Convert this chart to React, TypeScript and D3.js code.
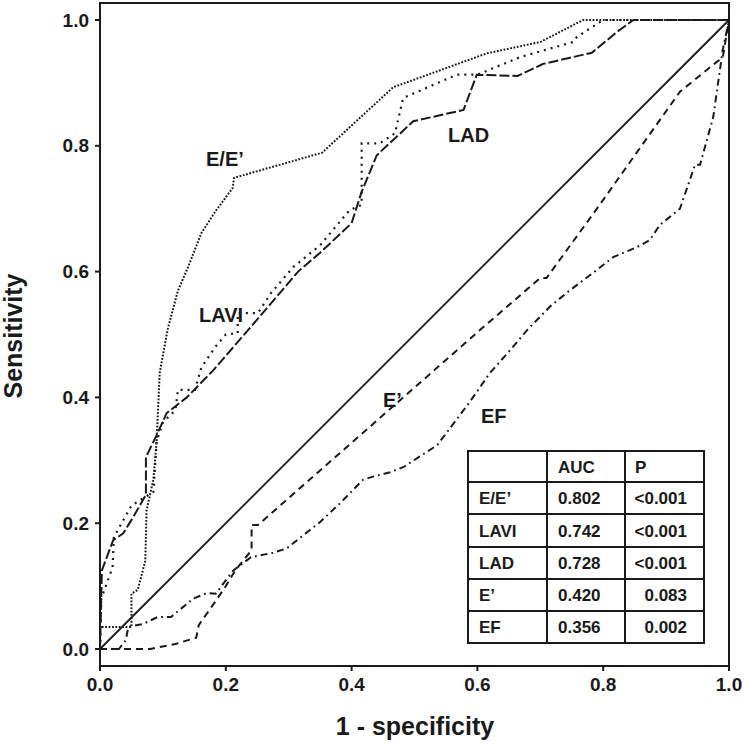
import React, { useRef, useEffect } from 'react';
import * as d3 from 'd3';

// ROC curves: [1 - specificity, sensitivity]
const eeCurve: [number, number][] = [
    [0, 0], [0, 0.035], [0.05, 0.035], [0.05, 0.088], [0.06, 0.094], [0.072, 0.14],
    [0.074, 0.22], [0.085, 0.27], [0.09, 0.33], [0.095, 0.44], [0.108, 0.51],
    [0.124, 0.57], [0.14, 0.607], [0.161, 0.661], [0.183, 0.695], [0.211, 0.733],
    [0.213, 0.749], [0.353, 0.789], [0.466, 0.893], [0.615, 0.947], [0.70, 0.965],
    [0.768, 1.0], [1, 1],
];

const laviCurve: [number, number][] = [
    [0, 0], [0.002, 0.08], [0.02, 0.13], [0.022, 0.178], [0.05, 0.228], [0.085, 0.25],
    [0.09, 0.33], [0.1, 0.36], [0.12, 0.38], [0.124, 0.412], [0.151, 0.412],
    [0.161, 0.447], [0.183, 0.48], [0.2, 0.5], [0.219, 0.502], [0.219, 0.534],
    [0.251, 0.534], [0.272, 0.566], [0.307, 0.607], [0.35, 0.642], [0.397, 0.698],
    [0.416, 0.706], [0.416, 0.804], [0.445, 0.804], [0.469, 0.82], [0.482, 0.876],
    [0.567, 0.913], [0.6, 0.913], [0.668, 0.941], [0.752, 0.965], [0.758, 0.973],
    [0.80, 1.0], [1, 1],
];

const ladCurve: [number, number][] = [
    [0, 0], [0.003, 0.125], [0.021, 0.173], [0.037, 0.184], [0.053, 0.21],
    [0.073, 0.245], [0.073, 0.305], [0.09, 0.34], [0.106, 0.375], [0.138, 0.4],
    [0.18, 0.443], [0.25, 0.524], [0.315, 0.6], [0.35, 0.63], [0.40, 0.677],
    [0.416, 0.727], [0.44, 0.785], [0.498, 0.839], [0.578, 0.857], [0.599, 0.913],
    [0.664, 0.911], [0.704, 0.93], [0.782, 0.948], [0.822, 0.981], [0.848, 1.0], [1, 1],
];

const ePrimeCurve: [number, number][] = [
    [0, 0], [0.08, 0], [0.12, 0.008], [0.153, 0.018], [0.157, 0.038], [0.183, 0.075],
    [0.2, 0.1], [0.215, 0.125], [0.241, 0.157], [0.241, 0.197], [0.251, 0.197],
    [0.604, 0.507], [0.70, 0.59], [0.71, 0.59], [0.79, 0.70], [0.922, 0.886],
    [0.98, 0.933], [0.99, 0.94], [1, 1],
];

const efCurve: [number, number][] = [
    [0, 0], [0.03, 0], [0.041, 0.014], [0.045, 0.035], [0.069, 0.04], [0.092, 0.051],
    [0.113, 0.051], [0.148, 0.08], [0.17, 0.089], [0.184, 0.088], [0.212, 0.125],
    [0.24, 0.146], [0.275, 0.153], [0.297, 0.16], [0.35, 0.202], [0.382, 0.232],
    [0.418, 0.269], [0.434, 0.274], [0.461, 0.281], [0.482, 0.289], [0.536, 0.324],
    [0.552, 0.345], [0.588, 0.393], [0.62, 0.439], [0.652, 0.475], [0.679, 0.507],
    [0.715, 0.544], [0.744, 0.568], [0.784, 0.598], [0.816, 0.623], [0.858, 0.641],
    [0.874, 0.65], [0.89, 0.674], [0.922, 0.70], [0.946, 0.77], [0.954, 0.77],
    [0.975, 0.846], [0.99, 0.952], [1, 1],
];

const axisTicks = [0, 0.2, 0.4, 0.6, 0.8, 1.0];

// inset table
const tableHeader = ['', 'AUC', 'P'];
const tableNames = ['E/E\u2019', 'LAVI', 'LAD', 'E\u2019', 'EF'];
const aucValues = ['0.802', '0.742', '0.728', '0.420', '0.356'];
const pValues = ['<0.001', '<0.001', '<0.001', '0.083', '0.002'];

const INK = '#1a1a1a';
const FONT = 'Liberation Sans, Arial, Helvetica, sans-serif';

const App: React.FC = () => {
    const svgRef = useRef<SVGSVGElement>(null);

    useEffect(() => {
        if (!svgRef.current) return;
        const svg = d3.select(svgRef.current);
        svg.selectAll('*').remove();

        const x = d3.scaleLinear().domain([0, 1]).range([100, 729]);
        const y = d3.scaleLinear().domain([0, 1]).range([649, 20]);
        const frameTop = 3;
        const frameBottom = 666;

        // frame
        svg.append('rect')
            .attr('x', x(0))
            .attr('y', frameTop)
            .attr('width', x(1) - x(0))
            .attr('height', frameBottom - frameTop)
            .attr('fill', 'none')
            .attr('stroke', INK)
            .attr('stroke-width', 2);

        // y ticks + labels
        const yAxis = svg.append('g');
        axisTicks.forEach(t => {
            yAxis.append('line')
                .attr('x1', x(0) - 5).attr('x2', x(0))
                .attr('y1', y(t)).attr('y2', y(t))
                .attr('stroke', INK).attr('stroke-width', 2);
            yAxis.append('text')
                .attr('x', 89)
                .attr('y', y(t))
                .attr('dy', '0.35em')
                .attr('text-anchor', 'end')
                .attr('font-size', 19)
                .attr('font-weight', 'bold')
                .attr('font-family', FONT)
                .attr('fill', INK)
                .text(d3.format('.1f')(t));
        });

        // x ticks + labels
        const xAxis = svg.append('g');
        axisTicks.forEach(t => {
            xAxis.append('line')
                .attr('x1', x(t)).attr('x2', x(t))
                .attr('y1', frameBottom).attr('y2', frameBottom + 5)
                .attr('stroke', INK).attr('stroke-width', 2);
            xAxis.append('text')
                .attr('x', x(t))
                .attr('y', 691)
                .attr('text-anchor', 'middle')
                .attr('font-size', 19)
                .attr('font-weight', 'bold')
                .attr('font-family', FONT)
                .attr('fill', INK)
                .text(d3.format('.1f')(t));
        });

        // axis titles
        svg.append('text')
            .attr('transform', 'translate(22, 336) rotate(-90)')
            .attr('text-anchor', 'middle')
            .attr('font-size', 25)
            .attr('font-weight', 'bold')
            .attr('font-family', FONT)
            .attr('fill', INK)
            .text('Sensitivity');

        svg.append('text')
            .attr('x', 415)
            .attr('y', 735)
            .attr('text-anchor', 'middle')
            .attr('font-size', 25)
            .attr('font-weight', 'bold')
            .attr('font-family', FONT)
            .attr('fill', INK)
            .text('1 - specificity');

        // reference diagonal
        svg.append('line')
            .attr('x1', x(0)).attr('y1', y(0))
            .attr('x2', x(1)).attr('y2', y(1))
            .attr('stroke', INK)
            .attr('stroke-width', 1.8);

        const line = d3.line<[number, number]>()
            .x(d => x(d[0]))
            .y(d => y(d[1]));

        const curves = [
            { data: eeCurve, dash: '1.8 1.6', width: 2 },
            { data: laviCurve, dash: '2 5', width: 2.2 },
            { data: ladCurve, dash: '10 3', width: 2 },
            { data: ePrimeCurve, dash: '7 5', width: 2 },
            { data: efCurve, dash: '7 4 1.8 4', width: 2 },
        ];

        curves.forEach(c => {
            svg.append('path')
                .datum(c.data)
                .attr('d', line)
                .attr('fill', 'none')
                .attr('stroke', INK)
                .attr('stroke-width', c.width)
                .attr('stroke-dasharray', c.dash);
        });

        // curve labels
        const labels = [
            { text: 'E/E\u2019', px: 206, py: 166 },
            { text: 'LAVI', px: 199, py: 322 },
            { text: 'LAD', px: 448, py: 142 },
            { text: 'E\u2019', px: 383, py: 407 },
            { text: 'EF', px: 481, py: 423 },
        ];
        labels.forEach(l => {
            svg.append('text')
                .attr('x', l.px)
                .attr('y', l.py)
                .attr('font-size', 20)
                .attr('font-weight', 'bold')
                .attr('font-family', FONT)
                .attr('fill', INK)
                .text(l.text);
        });

        // inset table
        const colX = [468, 547, 625, 704];
        const rowY = [451, 482, 514, 547, 579, 611, 643];
        const table = svg.append('g');
        table.append('rect')
            .attr('x', colX[0]).attr('y', rowY[0])
            .attr('width', colX[3] - colX[0])
            .attr('height', rowY[6] - rowY[0])
            .attr('fill', 'white');
        colX.forEach(cx => {
            table.append('line')
                .attr('x1', cx).attr('x2', cx)
                .attr('y1', rowY[0]).attr('y2', rowY[6])
                .attr('stroke', INK).attr('stroke-width', 2);
        });
        rowY.forEach(ry => {
            table.append('line')
                .attr('x1', colX[0] - 1).attr('x2', colX[3] + 1)
                .attr('y1', ry).attr('y2', ry)
                .attr('stroke', INK).attr('stroke-width', 2);
        });

        const cellText = (tx: number, ty: number, s: string, anchor = 'start') => {
            table.append('text')
                .attr('x', tx)
                .attr('y', ty)
                .attr('dy', '0.36em')
                .attr('text-anchor', anchor)
                .attr('font-size', 17)
                .attr('font-weight', 'bold')
                .attr('font-family', FONT)
                .attr('fill', INK)
                .text(s);
        };

        const mid = (i: number) => (rowY[i] + rowY[i + 1]) / 2;
        cellText(colX[1] + 11, mid(0), tableHeader[1]);
        cellText(colX[2] + 10, mid(0), tableHeader[2]);
        tableNames.forEach((n, i) => {
            cellText(colX[0] + 11, mid(i + 1), n);
            cellText(colX[1] + 11, mid(i + 1), aucValues[i]);
            cellText(687, mid(i + 1), pValues[i], 'end');
        });
    }, []);

    return (
        <svg
            ref={svgRef}
            width={745}
            height={744}
            style={{ position: 'absolute', left: 0, top: 0, background: 'white' }}
        />
    );
};

export default App;
